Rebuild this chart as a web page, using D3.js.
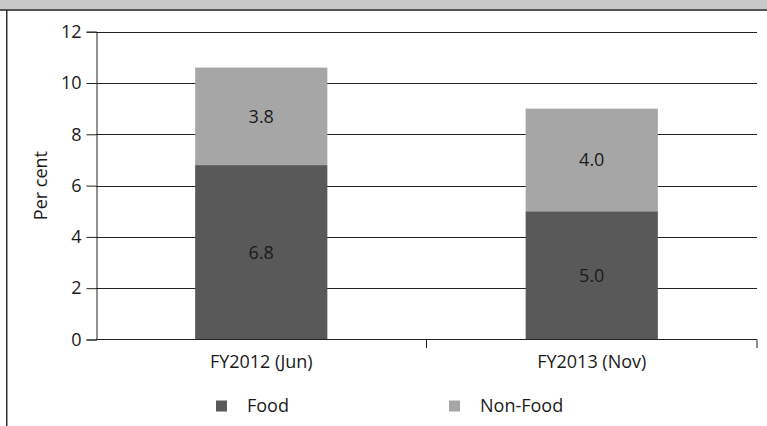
<!DOCTYPE html>
<html>
<head>
<meta charset="utf-8">
<script src="https://cdn.jsdelivr.net/npm/d3@7"></script>
<style>
  html, body { margin: 0; padding: 0; background: #fff; }
  svg { display: block; font-family: "Open Sans", "Liberation Sans", sans-serif; }
</style>
</head>
<body>
<svg id="chart" width="767" height="426"></svg>
<script>
// Stacked shares by period
const categories = ["FY2012 (Jun)", "FY2013 (Nov)"];
const seriesNames = ["Food", "Non-Food"];
const foodValues = [6.8, 5.0];
const nonFoodValues = [3.8, 4.0];
const yTicks = [0, 2, 4, 6, 8, 10, 12];
const yLabel = "Per cent";

const colors = { "Food": "#595959", "Non-Food": "#a6a6a6" };
const FS = 18;
const FONT = "Open Sans, Liberation Sans, sans-serif";

const W = 767, H = 426;
const svg = d3.select("#chart");

// header strip and frame
svg.append("rect").attr("x", 0).attr("y", 0).attr("width", W).attr("height", 9).attr("fill", "#c8c8c8");
svg.append("rect").attr("x", 0).attr("y", 9).attr("width", W).attr("height", 2).attr("fill", "#555");
svg.append("rect").attr("x", 6).attr("y", 10).attr("width", 1.5).attr("height", H - 10).attr("fill", "#333");

const x0 = 96, x1 = 757;
const y = d3.scaleLinear().domain([0, 12]).range([339.5, 31.7]);
const x = d3.scaleBand().domain(categories).range([x0, x1]);
const barW = x.bandwidth() * 0.4;

// gridlines
svg.append("g").selectAll("line").data(yTicks.filter(d => d > 0)).join("line")
  .attr("x1", x0).attr("x2", x1)
  .attr("y1", d => Math.round(y(d)) + 0.5).attr("y2", d => Math.round(y(d)) + 0.5)
  .attr("stroke", "#222").attr("stroke-width", 1);

// stacked bars
const rows = categories.map((c, i) => ({ cat: c, "Food": foodValues[i], "Non-Food": nonFoodValues[i] }));
const stacked = d3.stack().keys(seriesNames)(rows);
const g = svg.append("g");
stacked.forEach(layer => {
  g.selectAll(null).data(layer).join("rect")
    .attr("x", d => x(d.data.cat) + (x.bandwidth() - barW) / 2)
    .attr("width", barW)
    .attr("y", d => y(d[1]))
    .attr("height", d => y(d[0]) - y(d[1]))
    .attr("fill", colors[layer.key]);
  g.selectAll(null).data(layer).join("text")
    .attr("x", d => x(d.data.cat) + x.bandwidth() / 2)
    .attr("y", d => (y(d[0]) + y(d[1])) / 2)
    .attr("dy", "0.35em")
    .attr("text-anchor", "middle")
    .attr("font-size", FS)
    .attr("fill", "#1a1a1a")
    .text(d => (d[1] - d[0]).toFixed(1));
});

// y axis
const yAxis = d3.axisLeft(y).tickValues(yTicks).tickSize(10).tickPadding(5).tickFormat(d3.format("d"));
const ya = svg.append("g").attr("transform", `translate(${x0 + 0.5},0)`).call(yAxis);
ya.select(".domain").attr("stroke", "#222");
ya.selectAll(".tick line").attr("stroke", "#222");
ya.selectAll("text").attr("font-size", FS).attr("fill", "#1a1a1a").attr("font-family", FONT);

// x axis
svg.append("line").attr("x1", x0).attr("x2", x1).attr("y1", 339.5).attr("y2", 339.5).attr("stroke", "#222");
svg.append("g").selectAll("line").data([categories[1], null]).join("line")
  .attr("x1", d => d ? x(d) : x1).attr("x2", d => d ? x(d) : x1)
  .attr("y1", 339.5).attr("y2", 348).attr("stroke", "#222");
svg.append("g").selectAll("text").data(categories).join("text")
  .attr("x", d => x(d) + x.bandwidth() / 2)
  .attr("y", 362).attr("dy", "0.35em")
  .attr("text-anchor", "middle").attr("font-size", FS).attr("fill", "#1a1a1a")
  .text(d => d);

// y label
svg.append("text")
  .attr("transform", `translate(41,${(y(0) + y(12)) / 2}) rotate(-90)`)
  .attr("text-anchor", "middle").attr("dy", "0.35em")
  .attr("font-size", FS).attr("fill", "#1a1a1a")
  .text(yLabel);

// legend
const legX = [216, 449];
const leg = svg.append("g").selectAll("g").data(seriesNames).join("g")
  .attr("transform", (d, i) => `translate(${legX[i]},406)`);
leg.append("rect").attr("x", 0).attr("y", -5.5).attr("width", 11).attr("height", 11).attr("fill", d => colors[d]);
leg.append("text").attr("x", 31).attr("dy", "0.35em").attr("font-size", FS).attr("fill", "#1a1a1a").text(d => d);
</script>
</body>
</html>
